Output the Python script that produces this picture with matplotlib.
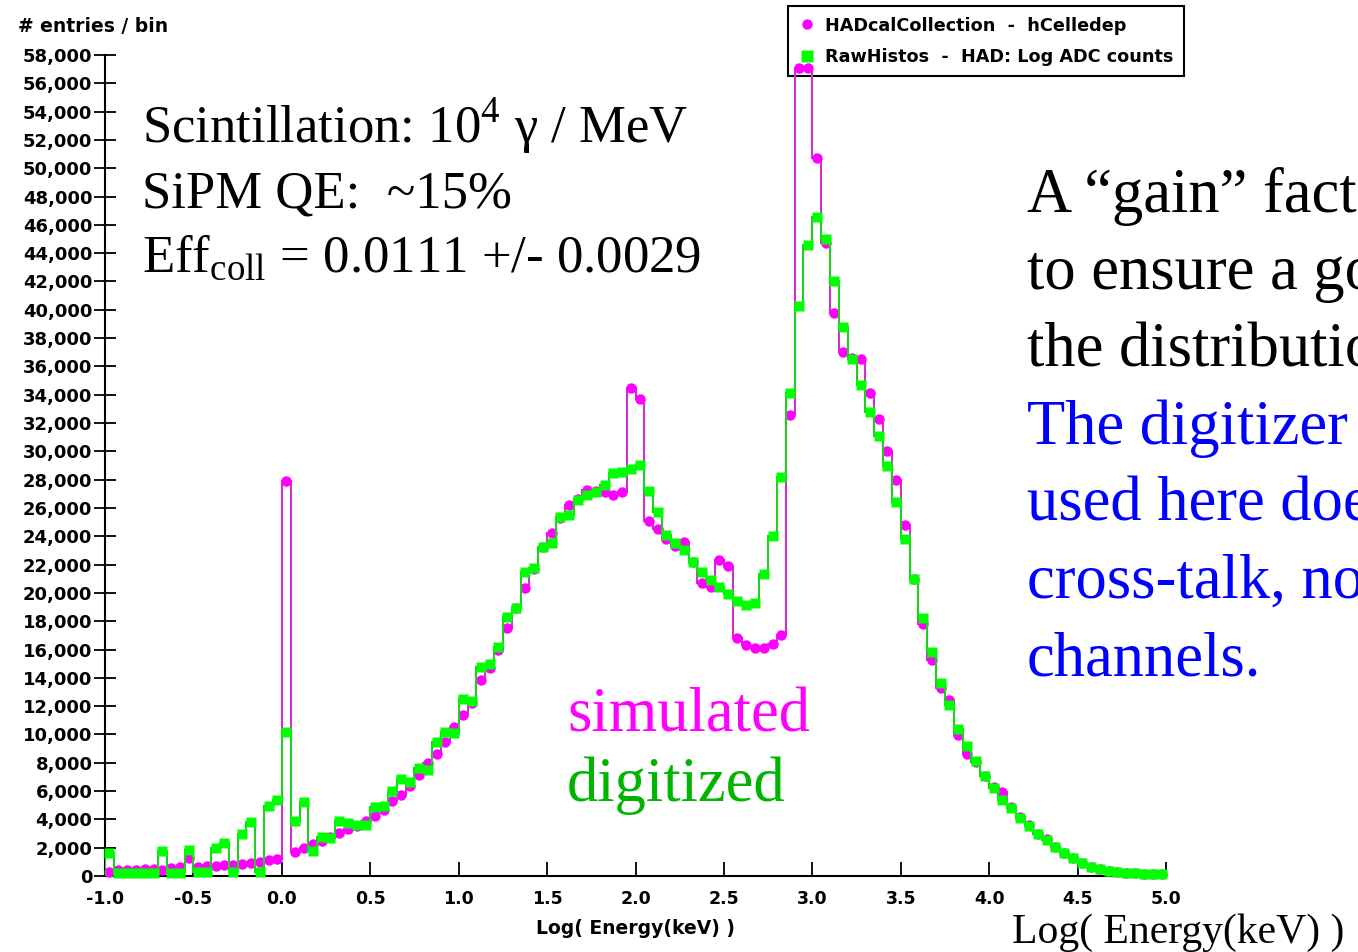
import numpy as np
import matplotlib
matplotlib.use("Agg")
import matplotlib.pyplot as plt
from matplotlib.lines import Line2D

# histogram: 120 bins of 0.05 in Log(Energy/keV), from -1 to 5
bin_edges = np.round(np.arange(-1.0, 5.0001, 0.05), 3)

# simulated (HADcalCollection - hCelledep)
simulated = [
    300, 400, 420, 450, 460, 480, 450, 600, 640, 1250,
    650, 680, 720, 800, 800, 850, 920, 1000, 1100, 1180,
    27900, 1700, 2000, 2250, 2450, 2750, 3050, 3300, 3500, 3900,
    4250, 4650, 5300, 5700, 6350, 7100, 7950, 8650, 9500, 10550,
    11350, 12200, 13850, 14700, 15950, 17500, 18900, 20350, 21700, 23250,
    24200, 25300, 26200, 26650, 27250, 27200, 27150, 26900, 27150, 34500,
    33700, 25100, 24500, 23800, 23300, 23600, 22200, 20700, 20400, 22300,
    21900, 16800, 16300, 16100, 16100, 16400, 17000, 32600, 57100, 57100,
    50700, 44700, 39800, 37000, 36600, 36500, 34100, 32250, 30000, 27950,
    24800, 21000, 17800, 15250, 13250, 12400, 9950, 8650, 8050, 7050,
    6300, 5950, 4850, 4150, 3600, 3000, 2600, 2050, 1650, 1250,
    900, 660, 480, 350, 280, 230, 190, 170, 160, 150,
]

# digitized (RawHistos - HAD: Log ADC counts)
digitized = [
    1600, 200, 200, 200, 200, 200, 1800, 200, 200, 1850,
    250, 250, 1950, 2300, 250, 2950, 3850, 250, 4950, 5350,
    10200, 3900, 5200, 1800, 2750, 2700, 3900, 3750, 3600, 3600,
    4850, 4950, 6000, 6850, 6650, 7600, 7500, 9500, 10150, 10100,
    12500, 12350, 14800, 15000, 16200, 18300, 18900, 21500, 21750, 23250,
    23500, 25350, 25500, 26550, 26900, 27150, 27600, 28450, 28550, 28750,
    29000, 27200, 25700, 24100, 23550, 23000, 22200, 21450, 20900, 20450,
    19900, 19450, 19150, 19300, 21300, 24000, 28200, 34100, 40250, 44550,
    46550, 45000, 42000, 38800, 36550, 34700, 32800, 31100, 28950, 26400,
    23800, 20950, 18250, 15800, 13650, 12100, 10350, 9200, 8100, 7050,
    6250, 5400, 4800, 4100, 3500, 3000, 2550, 2050, 1600, 1250,
    900, 650, 480, 350, 280, 230, 190, 170, 160, 150,
]

x_ticks = [-1.0, -0.5, 0.0, 0.5, 1.0, 1.5, 2.0, 2.5, 3.0, 3.5, 4.0, 4.5, 5.0]
y_ticks = list(range(0, 58001, 2000))

left_lines = [
    "Scintillation: 10$^{\\mathrm{4}}$ γ / MeV",
    "SiPM QE:  ~15%",
    "Eff$_{\\mathrm{coll}}$ = 0.0111 +/- 0.0029",
]
# the slide text runs off the right edge of the picture, as in the original
right_lines = [
    ("A “gain” fact", "black"),
    ("to ensure a go", "black"),
    ("the distributio", "black"),
    ("The digitizer", "#0000ff"),
    ("used here doe", "#0000ff"),
    ("cross-talk, no", "#0000ff"),
    ("channels.", "#0000ff"),
]

magenta = "#ff00ff"
magenta_line = "#cc33cc"
green = "#00ff00"
green_line = "#22cc22"

plt.rcParams["mathtext.fontset"] = "custom"
plt.rcParams["mathtext.rm"] = "Liberation Serif"

W, H = 1358, 952
fig = plt.figure(figsize=(W / 100, H / 100), dpi=100)
fig.patch.set_facecolor("white")


def fx(px):
    return px / W


def fy(py):
    return 1 - py / H


ax = fig.add_axes([fx(105), fy(876), (1166 - 105) / W, (876 - 55) / H])

centers = (bin_edges[:-1] + bin_edges[1:]) / 2
sim = np.array(simulated)
dig = np.array(digitized)

# simulated first, digitized on top; both drawn over the legend box
ax.stairs(sim, bin_edges, color=magenta_line, lw=1.5, baseline=0, zorder=3)
ax.plot(centers, sim, "o", color=magenta, ms=7.5, mec="none", zorder=3, clip_on=False)
ax.stairs(dig, bin_edges, color=green_line, lw=1.5, baseline=0, zorder=4)
ax.plot(centers, dig, "s", color=green, ms=7.5, mec="none", zorder=4, clip_on=False)

ax.set_xlim(-1.0, 5.0)
ax.set_ylim(0, 58000)
ax.set_xticks(x_ticks)
ax.set_xticklabels(["%.1f" % v for v in x_ticks], fontweight="bold", fontsize=12.5)
ax.set_yticks(y_ticks)
ax.set_yticklabels(["{:,}".format(v) for v in y_ticks], fontweight="bold", fontsize=13)
ax.tick_params(axis="y", direction="inout", length=16, width=1.3, pad=1)
ax.tick_params(axis="x", direction="in", length=10, width=1.3, pad=10)
for side in ["top", "right"]:
    ax.spines[side].set_visible(False)
for side in ["left", "bottom"]:
    ax.spines[side].set_linewidth(1.5)
ax.patch.set_alpha(0)

fig.text(fx(18), fy(27), "# entries / bin", fontweight="bold", fontsize=13.5, va="center")
fig.text(fx(635), fy(929), "Log( Energy(keV) )", fontweight="bold", fontsize=13.5,
         ha="center", va="center")

handles = [
    Line2D([], [], marker="o", ls="none", color=magenta, ms=7.5, mec="none"),
    Line2D([], [], marker="s", ls="none", color=green, ms=8, mec="none"),
]
leg = ax.legend(handles, ["HADcalCollection  -  hCelledep", "RawHistos  -  HAD: Log ADC counts"],
                loc="upper left", bbox_to_anchor=(fx(788), fy(6)), bbox_transform=fig.transFigure,
                frameon=True, fancybox=False, edgecolor="black", framealpha=1,
                prop={"weight": "bold", "size": 12.7}, handletextpad=0.5, borderpad=0.6,
                labelspacing=0.75, handlelength=1.0, borderaxespad=0)
leg.get_frame().set_linewidth(1.5)
leg.set_zorder(1)

serif = "Liberation Serif"
for i, line in enumerate(left_lines):
    fig.text(fx(142), fy(142 + 65 * i), line, family=serif, fontsize=38, va="baseline")

for i, (line, col) in enumerate(right_lines):
    fig.text(fx(1027), fy(212 + 77.2 * i), line, family=serif, fontsize=45,
             color=col, va="baseline")

fig.text(fx(567), fy(731), "simulated", family=serif, fontsize=45, color=magenta, va="baseline")
fig.text(fx(567), fy(801), "digitized", family=serif, fontsize=45, color="#00b400", va="baseline")
fig.text(fx(1012), fy(943), "Log( Energy(keV) )", family=serif, fontsize=30, va="baseline")

fig.savefig("out.png", dpi=100)
